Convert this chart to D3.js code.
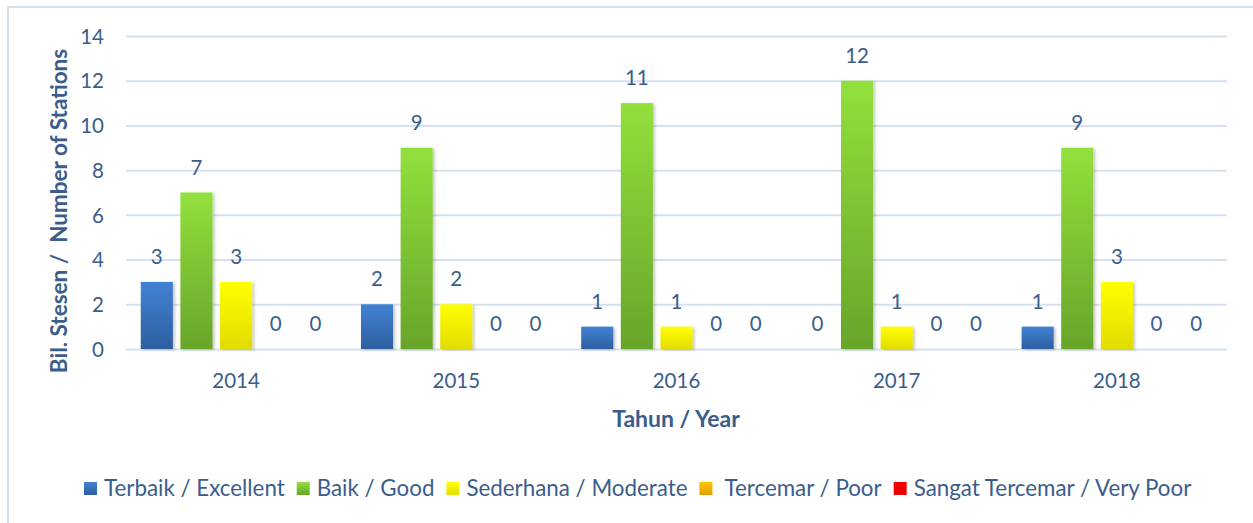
<!DOCTYPE html>
<html><head><meta charset="utf-8">
<script src="https://cdn.jsdelivr.net/npm/d3@7"></script>
<style>
html,body{margin:0;padding:0;background:#fff;}
svg{display:block;font-family:Lato, "Open Sans", sans-serif;}
</style></head>
<body>
<svg id="chart" width="1253" height="523"></svg>
<script>
const years = ["2014","2015","2016","2017","2018"];
const seriesNames = ["Terbaik / Excellent","Baik / Good","Sederhana / Moderate"," Tercemar / Poor","Sangat Tercemar / Very Poor"];
const excellent = [3,2,1,0,1];
const good = [7,9,11,12,9];
const moderate = [3,2,1,1,3];
const poor = [0,0,0,0,0];
const veryPoor = [0,0,0,0,0];
const yTicks = [0,2,4,6,8,10,12,14];
const yTitle = "Bil. Stesen /  Number of Stations";
const xTitle = "Tahun / Year";

const seriesValues = [excellent, good, moderate, poor, veryPoor];
const gradTop = ["#4282d4","#92e03c","#ffff00","#ffc400","#ff0000"];
const gradBot = ["#2d5f9f","#67a52a","#e3dc00","#dfa000","#e00000"];
const textColor = "#3b5d8c";

const svg = d3.select("#chart");
const defs = svg.append("defs");
seriesNames.forEach((s,i)=>{
  const g = defs.append("linearGradient").attr("id","g"+i).attr("x1",0).attr("y1",0).attr("x2",0).attr("y2",1);
  g.append("stop").attr("offset","0%").attr("stop-color",gradTop[i]);
  g.append("stop").attr("offset","100%").attr("stop-color",gradBot[i]);
});
const f = defs.append("filter").attr("id","sh").attr("x","-20%").attr("y","-10%").attr("width","150%").attr("height","130%");
f.append("feDropShadow").attr("dx",2).attr("dy",1).attr("stdDeviation",1.5).attr("flood-color","#000").attr("flood-opacity",0.22);

// outer border
svg.append("rect").attr("x",8).attr("y",7).attr("width",1260).attr("height",530)
  .attr("fill","none").attr("stroke","#d6e1f0").attr("stroke-width",2);

const x0 = d3.scaleBand().domain(years).range([126,1227]).paddingInner(0.1).paddingOuter(0.05);
const x1 = d3.scaleBand().domain(d3.range(5)).range([0,x0.bandwidth()]).paddingInner(0.19).paddingOuter(0.095);
const y = d3.scaleLinear().domain([0,14]).range([349,36]);

// gridlines
const grid = d3.axisLeft(y).tickValues(yTicks).tickSize(-(1227-126)).tickFormat("");
const gg = svg.append("g").attr("transform","translate(126,0)").call(grid);
gg.select(".domain").remove();
gg.selectAll("line").attr("stroke","#d6e1f0").attr("stroke-width",2);

// y tick labels
const ya = d3.axisLeft(y).tickValues(yTicks).tickSize(0).tickPadding(0);
const yg = svg.append("g").attr("transform","translate(104,0)").call(ya);
yg.select(".domain").remove();
yg.selectAll("text").attr("fill",textColor).attr("font-size",20.5).attr("font-family","Lato").attr("dy","0.35em");

// x labels
const xa = d3.axisBottom(x0).tickSize(0).tickPadding(0);
const xg = svg.append("g").attr("transform","translate(0,388)").call(xa);
xg.select(".domain").remove();
xg.selectAll("text").attr("fill",textColor).attr("font-size",20.5).attr("font-family","Lato").attr("dy",0);

// bars
const groups = svg.append("g").selectAll("g").data(years).join("g")
  .attr("transform",d=>`translate(${x0(d)},0)`);
groups.each(function(yr, yi){
  const g = d3.select(this);
  seriesValues.forEach((vals,si)=>{
    const v = vals[yi];
    if(v>0){
      g.append("rect").attr("x",x1(si)).attr("y",y(v)).attr("width",x1.bandwidth()).attr("height",y(0)-y(v))
        .attr("fill",`url(#g${si})`).attr("filter","url(#sh)");
    }
    g.append("text").attr("x",x1(si)+x1.bandwidth()/2).attr("y",y(v)-18)
      .attr("text-anchor","middle").attr("fill",textColor).attr("font-size",20.5).text(v);
  });
});

// axis titles
svg.append("text").attr("transform","translate(67,211) rotate(-90)").attr("text-anchor","middle")
  .style("white-space","pre")
  .attr("fill",textColor).attr("font-size",22.5).attr("font-weight","bold").text(yTitle);
svg.append("text").attr("x",676).attr("y",427).attr("text-anchor","middle")
  .attr("fill",textColor).attr("font-size",23).attr("font-weight","bold").text(xTitle);

// legend
const lg = svg.append("g");
let lx = 84;
seriesNames.forEach((s,i)=>{
  lg.append("rect").attr("x",lx).attr("y",482).attr("width",13).attr("height",13).attr("fill",`url(#g${i})`);
  const t = lg.append("text").attr("x",lx+20).attr("y",496).style("white-space","pre")
    .attr("fill",textColor).attr("font-size",22.35).text(s);
  const w = t.node().getComputedTextLength();
  lx += 20 + w + 12;
});
</script>
</body></html>
